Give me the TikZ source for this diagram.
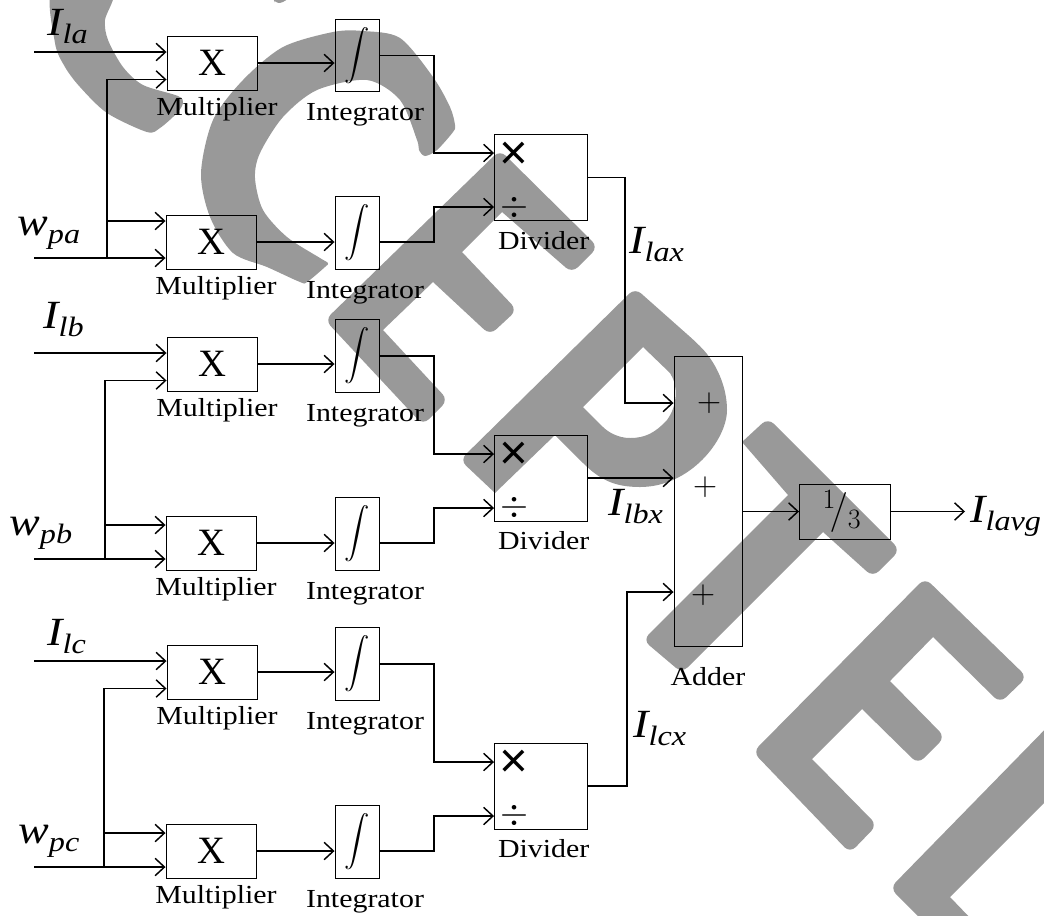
\documentclass[tikz,border=0pt]{standalone}
\usepackage{fix-cm}
\usepackage{graphicx}
\usepackage{fontspec}
\setmainfont{Liberation Serif}
\newfontfamily\capfont[FakeStretch=1.15]{Liberation Serif}
\newfontfamily\sigfont[FakeStretch=1.15]{Liberation Serif}
\newfontfamily\timesfont{Liberation Sans}
\usetikzlibrary{arrows.meta,positioning}
\definecolor{wm}{RGB}{153,153,153}
\newcommand{\signame}[2]{\sigfont\itshape\fontsize{30}{30}\selectfont #1\raisebox{-6.5pt}{\fontsize{21}{21}\selectfont #2}}
\newcommand{\integ}{\scalebox{1.9}{$\displaystyle\int$}}

\begin{document}
\begin{tikzpicture}[
  x=0.75pt, y=-0.75pt,
  block/.style={draw, line width=0.7pt, inner sep=0pt},
  mult/.style ={block, minimum width=67.5pt, minimum height=40.5pt,
                font=\fontsize{29}{29}\selectfont},
  intg/.style ={block, minimum width=33pt, minimum height=54.5pt},
  divd/.style ={block, minimum width=69.75pt, minimum height=64.5pt},
  capt/.style ={inner sep=0pt, text height=14pt, text depth=5pt,
                font=\capfont\fontsize{19.5}{19.5}\selectfont},
  sig/.style  ={inner sep=0pt, anchor=base west},
  sym/.style  ={inner sep=0pt, font=\timesfont\fontsize{37}{37}\selectfont},
  quot/.style ={inner sep=0pt, font=\fontsize{27}{27}\selectfont},
  plusm/.style={inner sep=0pt, font=\fontsize{25}{25}\selectfont},
  arr/.style  ={-{Straight Barb[length=7pt,width=13pt]}, line width=1.1pt},
  wmbar/.style={fill=wm, rounded corners=6pt}
]
\useasboundingbox (0,0) rectangle (1044,915);

% Letters behind the diagram
\begin{scope}
\clip (0,0) rectangle (1044,915);
% first C
\fill[wm] plot[smooth cycle,tension=0.5] coordinates
  {(53,-10) (55,43) (65,67) (80,87) (107,113) (147,132) (160,128) (177,113) (183,103)
   (178,96) (143,85) (123,67) (108,40) (105,20) (112,-10)};
% second C
\fill[wm] plot[smooth cycle,tension=0.5] coordinates
  {(455,125) (453,132) (437,150) (425,156) (419,150) (417,140) (400,100) (367,80) (317,90)
   (283,117) (260,153) (255,178) (263,210) (287,237) (320,258) (328,263) (325,267) (307,282)
   (300,282) (267,267) (233,253) (210,217) (201,173) (213,120) (243,80) (283,47) (333,32)
   (363,31) (400,38) (433,77) (450,107)};
\fill[wmbar] (272,-5) -- (276,6) -- (295,-5) -- cycle;
% first E
\fill[wmbar] (500,150) -- (598,247) -- (572,273) [sharp corners] -- (502,212) -- (462,252)
  [rounded corners=6pt] -- (517,310) -- (490,335) [sharp corners] -- (433,282) -- (383,330)
  [rounded corners=6pt] -- (448,400) -- (423,425) -- (325,320) -- cycle;
% P
\fill[wm, even odd rule] [rounded corners=6pt] (635,288) -- (697,343) [sharp corners]
    .. controls (715,362) and (727,385) .. (727,410)
    .. controls (727,440) and (690,487) .. (640,487)
    .. controls (615,487) and (600,480) .. (583,463)
    -- (555,435) -- (495,493) [rounded corners=6pt] -- (460,460) -- cycle
  [sharp corners] (583,407) -- (643,347) -- (670,373)
    .. controls (678,385) and (678,405) .. (667,420)
    .. controls (655,433) and (645,438) .. (630,438)
    .. controls (618,438) and (608,432) .. (603,427) -- cycle;
% T
\fill[wmbar] (742,442) -- (768,418) -- (900,550) -- (873,577) [sharp corners] -- (823,532)
  [rounded corners=6pt] -- (682,673) -- (643,640) [sharp corners] -- (788,495) -- cycle;
% second E
\fill[wmbar] (925,578) -- (1027,677) -- (1000,703) [sharp corners] -- (933,637) -- (890,681)
  [rounded corners=6pt] -- (945,737) -- (918,764) [sharp corners] -- (862,709) -- (812,759)
  [rounded corners=6pt] -- (877,825) -- (850,853) -- (753,752) -- cycle;
% D
\fill[wmbar] (1060,714) -- (890,888) -- (925,923) [sharp corners] -- (975,923) -- (950,897) -- (1060,787) -- cycle;
\end{scope}

% Multipliers
\node[mult] (mula1) at (212,63)  {X};
\node[mult] (mula2) at (211,242) {X};
\node[mult] (mulb1) at (212,364) {X};
\node[mult] (mulb2) at (211,543) {X};
\node[mult] (mulc1) at (212,672) {X};
\node[mult] (mulc2) at (211,851) {X};

\node[capt, below=4.75pt of mula1, xshift=3.75pt] (capma1) {Multiplier};
\node[capt, below=4.75pt of mula2, xshift=3.75pt] (capma2) {Multiplier};
\node[capt, below=4.75pt of mulb1, xshift=3.75pt] (capmb1) {Multiplier};
\node[capt, below=4.75pt of mulb2, xshift=3.75pt] (capmb2) {Multiplier};
\node[capt, below=4.75pt of mulc1, xshift=3.75pt] (capmc1) {Multiplier};
\node[capt, below=4.75pt of mulc2, xshift=3.75pt] (capmc2) {Multiplier};

% Integrators
\node[intg] (inta1) at (357,55.5) {\integ};
\node[intg] (inta2) at (357,233)  {\integ};
\node[intg] (intb1) at (357,356)  {\integ};
\node[intg] (intb2) at (357,534)  {\integ};
\node[intg] (intc1) at (357,664)  {\integ};
\node[intg] (intc2) at (357,842)  {\integ};

\node[capt, below=7pt of inta1, xshift=6pt] (capia1) {Integrator};
\node[capt, below=7pt of inta2, xshift=6pt] (capia2) {Integrator};
\node[capt, below=7pt of intb1, xshift=6pt] (capib1) {Integrator};
\node[capt, below=7pt of intb2, xshift=6pt] (capib2) {Integrator};
\node[capt, below=7pt of intc1, xshift=6pt] (capic1) {Integrator};
\node[capt, below=7pt of intc2, xshift=6pt] (capic2) {Integrator};

% Dividers
\node[divd] (diva) at (541,177.5) {};
\node[divd] (divb) at (541,478)   {};
\node[divd] (divc) at (541,786)   {};
\node[capt, below=7pt of diva, xshift=2pt] (capda) {Divider};
\node[capt, below=7pt of divb, xshift=2pt] (capdb) {Divider};
\node[capt, below=7pt of divc, xshift=2pt] (capdc) {Divider};

\node[sym]  (mula) at (514,156) {×};
\node[quot] (quoa) at (514,207) {$\div$};
\node[sym]  (mulb) at (514,456) {×};
\node[quot] (quob) at (514,507) {$\div$};
\node[sym]  (mulc) at (514,764) {×};
\node[quot] (quoc) at (514,815) {$\div$};

% Adder and gain
\node[block, minimum width=51pt, minimum height=217.5pt] (adder) at (708,501) {};
\node[capt, below=15.25pt of adder] (capadd) {Adder};
\node[plusm] (pls1) at (709,403) {$+$};
\node[plusm] (pls2) at (705,487) {$+$};
\node[plusm] (pls3) at (703,595) {$+$};
\node[block, minimum width=68.25pt, minimum height=41.25pt,
      font=\fontsize{30}{30}\selectfont] (third) at (845,511.5) {$^{1}\!/_{3}\kern4.5pt$};

% Signal names
\node[sig] (ila) at (47,35)    {\signame{I}{la}};
\node[sig] (wpa) at (17,235)   {\signame{w}{pa}};
\node[sig] (ilb) at (43,328)   {\signame{I}{lb}};
\node[sig] (wpb) at (9,535)    {\signame{w}{pb}};
\node[sig] (ilc) at (47,645)   {\signame{I}{lc}};
\node[sig] (wpc) at (18,843)   {\signame{w}{pc}};
\node[sig] (ilax) at (629,253) {\signame{I}{lax}};
\node[sig] (ilbx) at (608,515) {\signame{I}{lbx}};
\node[sig] (ilcx) at (633,737) {\signame{I}{lcx}};
\node[sig] (ilavg) at (970,522) {\signame{I}{lavg}};

% Inputs, group a
\coordinate (ina1) at (34,52);
\coordinate (ina2) at (34,258);
\coordinate (juna) at (107,258);
\coordinate (upa1) at (107,79.5);
\coordinate (upa2) at (107,221);
\draw[arr] (ina1) -- (ina1 -| mula1.west);
\draw[arr] (ina2) -- (ina2 -| mula2.west);
\draw[arr] (juna) -- (upa1) -- (upa1 -| mula1.west);
\draw[arr] (upa2) -- (upa2 -| mula2.west);

% Inputs, group b
\coordinate (inb1) at (34,353);
\coordinate (inb2) at (34,559);
\coordinate (junb) at (105,559);
\coordinate (upb1) at (105,380.5);
\coordinate (upb2) at (105,525);
\draw[arr] (inb1) -- (inb1 -| mulb1.west);
\draw[arr] (inb2) -- (inb2 -| mulb2.west);
\draw[arr] (junb) -- (upb1) -- (upb1 -| mulb1.west);
\draw[arr] (upb2) -- (upb2 -| mulb2.west);

% Inputs, group c
\coordinate (inc1) at (34,661);
\coordinate (inc2) at (34,867);
\coordinate (junc) at (104,867);
\coordinate (upc1) at (104,688.5);
\coordinate (upc2) at (104,833);
\draw[arr] (inc1) -- (inc1 -| mulc1.west);
\draw[arr] (inc2) -- (inc2 -| mulc2.west);
\draw[arr] (junc) -- (upc1) -- (upc1 -| mulc1.west);
\draw[arr] (upc2) -- (upc2 -| mulc2.west);

% Multiplier to integrator
\draw[arr] (mula1.east) -- (mula1.east -| inta1.west);
\draw[arr] (mula2.east) -- (mula2.east -| inta2.west);
\draw[arr] (mulb1.east) -- (mulb1.east -| intb1.west);
\draw[arr] (mulb2.east) -- (mulb2.east -| intb2.west);
\draw[arr] (mulc1.east) -- (mulc1.east -| intc1.west);
\draw[arr] (mulc2.east) -- (mulc2.east -| intc2.west);

% Integrator to divider
\coordinate (tora1) at (434,153);
\coordinate (tora2) at (434,207);
\coordinate (torb1) at (434,454);
\coordinate (torb2) at (434,508);
\coordinate (torc1) at (434,762);
\coordinate (torc2) at (434,816);
\draw[arr] (inta1.east) -| (tora1) -- (tora1 -| diva.west);
\draw[arr] (inta2.east |- mula2.east) -| (tora2) -- (tora2 -| diva.west);
\draw[arr] (intb1.east) -| (torb1) -- (torb1 -| divb.west);
\draw[arr] (intb2.east |- mulb2.east) -| (torb2) -- (torb2 -| divb.west);
\draw[arr] (intc1.east) -| (torc1) -- (torc1 -| divc.west);
\draw[arr] (intc2.east |- mulc2.east) -| (torc2) -- (torc2 -| divc.west);

% Divider to adder
\coordinate (adda) at (625,403);
\coordinate (addc) at (627,592);
\draw[arr] (diva.east) -| (adda) -- (adda -| adder.west);
\draw[arr] (divb.east) -- (divb.east -| adder.west);
\draw[arr] (divc.east) -| (addc) -- (addc -| adder.west);

% Output
\coordinate (avgend) at (965,511.5);
\draw[arr] (third.west -| adder.east) -- (third.west);
\draw[arr] (third.east) -- (avgend);

\end{tikzpicture}
\end{document}
